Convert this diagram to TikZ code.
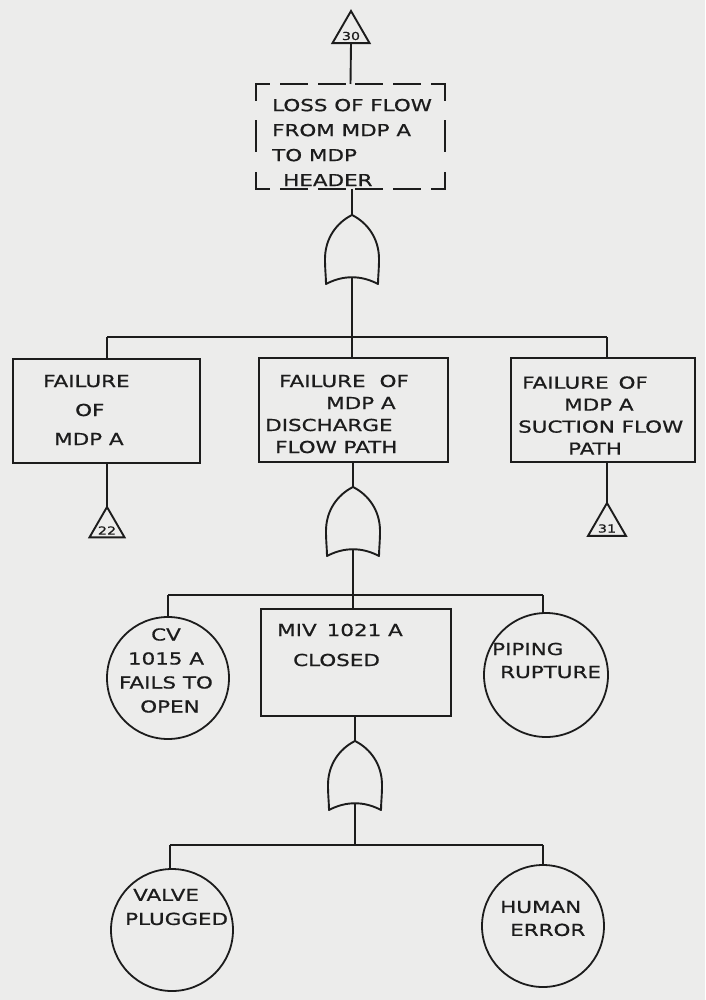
\documentclass[tikz,border=0pt]{standalone}
\usepackage{fontspec}
\setmainfont{DejaVu Sans}[FakeStretch=1.3, FakeBold=0.8]
\usetikzlibrary{shapes.geometric}

\definecolor{paper}{RGB}{236,236,235}
\definecolor{ink}{RGB}{28,28,28}

% hand-lettering size with a chosen line spacing
\newcommand{\lettering}[1]{\fontsize{16.5}{#1}\selectfont}

\tikzset{
  wire/.style={draw=ink, line width=1.9pt},
  evbox/.style={rectangle, draw=ink, line width=2pt, inner sep=0pt, outer sep=0pt},
  areabox/.style={rectangle, inner sep=0pt, outer sep=0pt},
  dashside/.style={draw=ink, line width=2pt, line cap=rect},
  basic/.style={circle, draw=ink, line width=1.8pt, inner sep=0pt, outer sep=0pt},
  xfer/.style={regular polygon, regular polygon sides=3, draw=ink, line width=1.9pt,
    inner sep=0pt, outer sep=0pt, text=ink},
  xferlabel/.style={inner sep=0pt, text=ink, font=\fontsize{11}{11}\selectfont},
  txt/.style={inner sep=0pt, text=ink, align=left},
  orgate/.pic={
    \draw[draw=ink, line width=1.9pt, line join=round]
      (0,0) .. controls (16,8) and (27,24) .. (27,44)
      .. controls (27,55) and (26,62) .. (26,69)
      .. controls (9,60) and (-9,60) .. (-26,69)
      .. controls (-26,62) and (-27,55) .. (-27,44)
      .. controls (-27,24) and (-16,8) .. cycle;
    \coordinate (-in) at (0,0);
    \coordinate (-out) at (0,62);
  }
}

\begin{document}
\begin{tikzpicture}[x=1pt, y=-1pt]
  \fill[paper] (0,0) rectangle (705,1000);
  \useasboundingbox (0,0) rectangle (705,1000);

  % ---- top event (dashed outline, corners kept closed) ----
  \node[xfer, minimum size=42.8pt] (t30) at (351,32.4) {};
  \node[xferlabel] (t30-t) at (351,36) {30};
  \node[areabox, minimum width=189pt, minimum height=105pt] (top) at (350.5,136.5) {};
  \draw[dashside, dash pattern=on 26pt off 11.8pt, dash phase=13pt]
    (top.north west) -- (top.north east);
  \draw[dashside, dash pattern=on 26pt off 11.8pt, dash phase=13pt]
    (top.south west) -- (top.south east);
  \draw[dashside, dash pattern=on 30pt off 21.5pt, dash phase=14pt]
    (top.north west) -- (top.south west);
  \draw[dashside, dash pattern=on 30pt off 21.5pt, dash phase=14pt]
    (top.north east) -- (top.south east);
  \node[txt, anchor=west, font=\lettering{25}] (top-t) at (272,142.5)
    {LOSS OF FLOW\\FROM MDP A\\TO MDP\\\hspace*{11pt}HEADER};
  \draw[wire] (t30.south) -- (top.north);

  \pic (g1) at (352,215) {orgate};
  \draw[wire] (top.south -| g1-in) -- (g1-in);

  % ---- second level ----
  \coordinate (b1L) at (107,337);
  \coordinate (b1M) at (352,337);
  \coordinate (b1R) at (607,337);
  \draw[wire] (g1-out) -- (b1M);
  \draw[wire] (b1L) -- (b1R);

  \node[evbox, minimum width=187pt, minimum height=104pt] (pump) at (106.5,411) {};
  \node[txt, anchor=west, font=\lettering{29}] (pump-t) at (43,410)
    {FAILURE\\\hspace*{32pt}OF\\\hspace*{11pt}MDP A};
  \node[evbox, minimum width=189pt, minimum height=104pt] (disch) at (353.5,410) {};
  \node[txt, anchor=west, font=\lettering{22}] (disch-t) at (265,414)
    {\hspace*{14pt}FAILURE\hspace{14pt}OF\\\hspace*{61pt}MDP A\\DISCHARGE\\\hspace*{10pt}FLOW PATH};
  \node[evbox, minimum width=184pt, minimum height=104pt] (suct) at (602.5,410) {};
  \node[txt, anchor=west, font=\lettering{22}] (suct-t) at (518,415.5)
    {\hspace*{4pt}FAILURE\hspace{10pt}OF\\\hspace*{46pt}MDP A\\SUCTION FLOW\\\hspace*{50pt}PATH};

  \draw[wire] (b1L) -- (b1L |- pump.north);
  \draw[wire] (b1M) -- (b1M |- disch.north);
  \draw[wire] (b1R) -- (b1R |- suct.north);

  \node[xfer, minimum size=40.4pt] (t22) at (107,527.2) {};
  \node[xferlabel] (t22-t) at (107,530.5) {22};
  \node[xfer, minimum size=43.8pt] (t31) at (607,524.9) {};
  \node[xferlabel] (t31-t) at (607,528.5) {31};
  \draw[wire] (t22.corner 1 |- pump.south) -- (t22.corner 1);
  \draw[wire] (t31.corner 1 |- suct.south) -- (t31.corner 1);

  \pic (g2) at (353,487) {orgate};
  \draw[wire] (disch.south -| g2-in) -- (g2-in);

  % ---- third level ----
  \coordinate (b2L) at (168,595);
  \coordinate (b2M) at (353,595);
  \coordinate (b2R) at (543,595);
  \draw[wire] (g2-out) -- (b2M);
  \draw[wire] (b2L) -- (b2R);

  \node[basic, minimum size=122pt] (cv) at (168,678) {};
  \node[txt, align=center, font=\lettering{24}] (cv-t) at (166,670.5)
    {CV\\1015 A\\FAILS TO\\\hspace*{8pt}OPEN};
  \node[evbox, minimum width=190pt, minimum height=107pt] (miv) at (356,662.5) {};
  \node[txt, anchor=west, font=\lettering{30}] (miv-t) at (277,645)
    {MIV\hspace{10pt}1021 A\\\hspace*{16pt}CLOSED};
  \node[basic, minimum size=124pt] (pipe) at (546,675) {};
  \node[txt, anchor=west, font=\lettering{23}] (pipe-t) at (492,660.5)
    {PIPING\\\hspace*{8pt}RUPTURE};

  \draw[wire] (b2L) -- (cv.north);
  \draw[wire] (b2M) -- (b2M |- miv.north);
  \draw[wire] (b2R) -- (b2R |- pipe.north);

  \pic (g3) at (355,741) {orgate};
  \draw[wire] (miv.south -| g3-in) -- (g3-in);

  % ---- bottom level ----
  \coordinate (b3L) at (170,845);
  \coordinate (b3M) at (355,845);
  \coordinate (b3R) at (543,845);
  \draw[wire] (g3-out) -- (b3M);
  \draw[wire] (b3L) -- (b3R);

  \node[basic, minimum size=122pt] (plug) at (172,930) {};
  \node[txt, anchor=west, font=\lettering{24}] (plug-t) at (125,907)
    {\hspace*{8pt}VALVE\\PLUGGED};
  \node[basic, minimum size=122pt] (human) at (543,926) {};
  \node[txt, anchor=west, font=\lettering{23}] (human-t) at (500,918.5)
    {HUMAN\\\hspace*{10pt}ERROR};

  \draw[wire] (b3L) -- (b3L |- plug.north);
  \draw[wire] (b3R) -- (human.north);
\end{tikzpicture}
\end{document}
